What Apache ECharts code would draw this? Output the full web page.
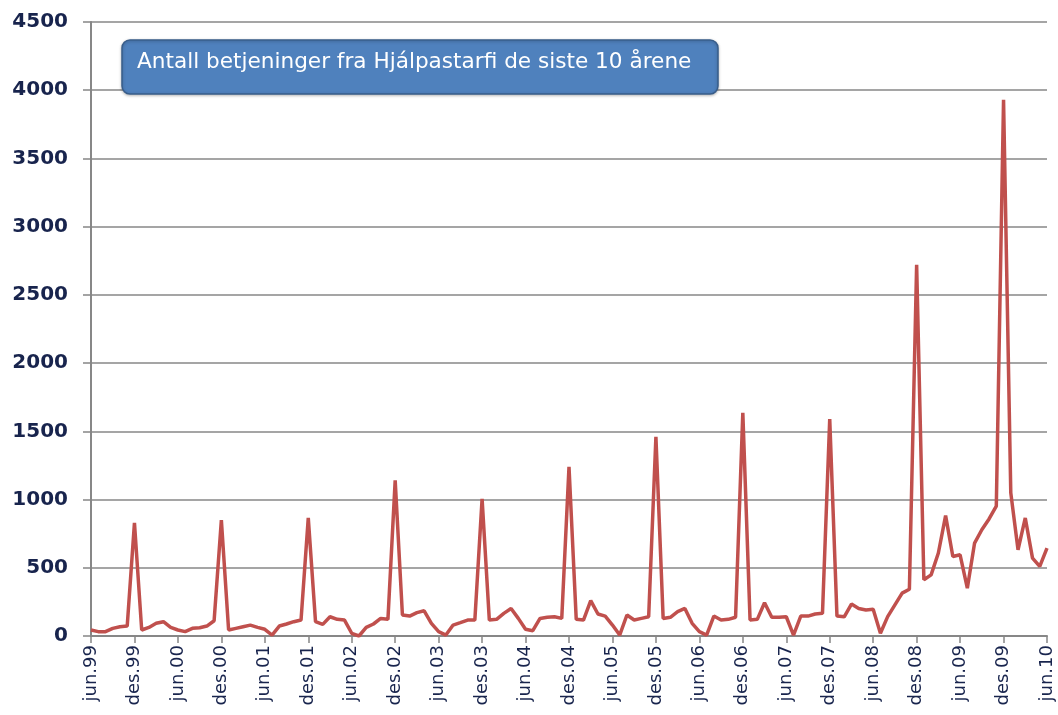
<!DOCTYPE html>
<html>
<head>
<meta charset="utf-8">
<script src="https://cdn.jsdelivr.net/npm/echarts@6/dist/echarts.min.js"></script>
<style>
  html, body { margin: 0; padding: 0; background: #fff; }
  #chart { width: 1058px; height: 715px; }
</style>
</head>
<body>
<div id="chart"></div>
<script>
// månedlige betjeninger, jun.99 - jun.10
var monthNames = ['jan', 'feb', 'mar', 'apr', 'mai', 'jun', 'jul', 'aug', 'sep', 'okt', 'nov', 'des'];
var firstYear = 1999, firstMonth = 5, monthCount = 133;

var values1999 = [44, 32, 32, 56, 68, 73, 830];                       // jun-des
var values2000 = [44, 63, 93, 105, 63, 44, 32, 56, 61, 73, 112, 850];
var values2001 = [44, 56, 68, 80, 63, 49, 7, 73, 88, 105, 117, 865];
var values2002 = [105, 85, 141, 122, 117, 20, 0, 63, 88, 129, 122, 1140];
var values2003 = [154, 146, 171, 185, 93, 32, 7, 80, 98, 117, 117, 1005];
var values2004 = [117, 122, 166, 202, 129, 49, 39, 129, 137, 141, 129, 1240];
var values2005 = [122, 117, 259, 161, 146, 80, 7, 154, 117, 129, 141, 1460];
var values2006 = [129, 137, 178, 202, 93, 32, 7, 146, 117, 122, 137, 1635];
var values2007 = [117, 122, 244, 137, 137, 141, 7, 146, 146, 161, 166, 1590];
var values2008 = [146, 141, 234, 202, 191, 196, 20, 142, 228, 314, 343, 2720];
var values2009 = [412, 448, 608, 882, 583, 595, 350, 681, 779, 858, 951, 3930];
var values2010 = [1049, 632, 865, 571, 510, 644];                     // jan-jun

var yTicks = { min: 0, max: 4500, interval: 500 };
var titleText = 'Antall betjeninger fra Hjálpastarfi de siste 10 årene';

var categories = [];
for (var k = 0; k < monthCount; k++) {
    var m = (firstMonth + k) % 12;
    var y = firstYear + Math.floor((firstMonth + k) / 12);
    categories.push(monthNames[m] + '.' + String(y % 100).padStart(2, '0'));
}
var values = [].concat(values1999, values2000, values2001, values2002, values2003,
    values2004, values2005, values2006, values2007, values2008, values2009, values2010);

var myChart = echarts.init(document.getElementById('chart'));

var option = {
    animation: false,
    backgroundColor: '#ffffff',
    grid: { left: 91, right: 11, top: 22, bottom: 79 },
    xAxis: {
        type: 'category',
        data: categories,
        boundaryGap: false,
        axisLine: { lineStyle: { color: '#878787', width: 2 } },
        axisTick: { interval: 5, length: 7, lineStyle: { color: '#878787', width: 1.5 } },
        axisLabel: {
            interval: 5,
            rotate: 90,
            margin: 9,
            fontFamily: 'DejaVu Sans',
            fontSize: 18,
            color: '#18244d'
        },
        splitLine: { show: false }
    },
    yAxis: {
        type: 'value',
        min: yTicks.min,
        max: yTicks.max,
        interval: yTicks.interval,
        axisLine: { show: true, lineStyle: { color: '#878787', width: 2 } },
        axisTick: { show: true, length: 8, lineStyle: { color: '#878787', width: 1.5 } },
        axisLabel: {
            margin: 23,
            fontFamily: 'DejaVu Sans',
            fontWeight: 'bold',
            fontSize: 20,
            color: '#18244d',
            formatter: function (v) { return String(v); }
        },
        splitLine: { lineStyle: { color: '#878787', width: 1.5 } }
    },
    series: [{
        type: 'line',
        data: values,
        symbol: 'none',
        lineStyle: { color: '#c0504d', width: 3.5 },
        itemStyle: { color: '#c0504d' }
    }],
    graphic: [{
        type: 'rect',
        shape: { x: 122, y: 40, width: 596, height: 54, r: 8 },
        style: {
            fill: '#4f81bd',
            stroke: '#385d8a',
            lineWidth: 1.5,
            shadowBlur: 3,
            shadowColor: 'rgba(0,0,0,0.25)',
            shadowOffsetY: 1
        },
        z: 10
    }, {
        type: 'text',
        left: 137,
        top: 51,
        style: {
            text: titleText,
            fill: '#ffffff',
            font: '21.6px "DejaVu Sans"'
        },
        z: 11
    }]
};

myChart.setOption(option);

window.addEventListener('resize', function () {
    myChart.resize();
});
</script>
</body>
</html>
